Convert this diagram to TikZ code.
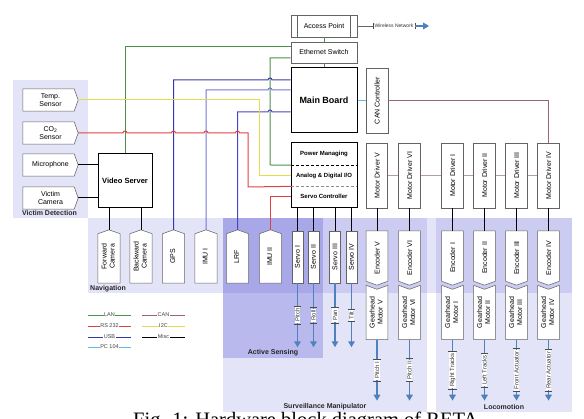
\documentclass[tikz,border=0pt]{standalone}
\usepackage{fontspec}
\setmainfont{Liberation Sans}
\newfontfamily\capfont{Liberation Serif}
\usepackage{graphicx}
\usetikzlibrary{arrows.meta}
\pgfdeclarelayer{regions}
\pgfdeclarelayer{shapes}
\pgfsetlayers{regions,shapes,main}
\definecolor{lanC}{RGB}{75,145,75}
\definecolor{rsC}{RGB}{222,65,65}
\definecolor{usbC}{RGB}{55,55,170}
\definecolor{usbL}{RGB}{115,115,212}
\definecolor{usbM}{RGB}{70,70,188}
\definecolor{i2cC}{RGB}{228,220,80}
\definecolor{pcC}{RGB}{95,190,222}
\definecolor{canC}{RGB}{155,100,115}
\definecolor{canL}{RGB}{180,155,165}
\definecolor{arrC}{RGB}{79,129,189}
\definecolor{regA}{RGB}{228,228,248}
\definecolor{regB}{RGB}{204,204,242}
\definecolor{regC}{RGB}{185,185,238}
\definecolor{regD}{RGB}{168,168,232}
\definecolor{edgeC}{RGB}{100,100,100}
\newcommand\fsz{\fontsize{7}{8.2}\selectfont}
\newcommand\twol[1]{\begin{tabular}{@{}c@{}}#1\end{tabular}}
\tikzset{
  edge/.style={draw=edgeC, line width=0.55pt},
  box/.style={edge, fill=white, inner sep=0pt, align=center, font=\fsz},
  tbox/.style={inner sep=0pt, align=center, font=\fsz},
  bbox/.style={box, draw=black, line width=1pt},
  sub/.style={inner sep=0pt, minimum width=66pt, minimum height=21.3pt, font=\bfseries\fontsize{6}{7}\selectfont},
  lan/.style={draw=lanC, line width=1pt},
  rs/.style={draw=rsC, line width=1pt},
  usb/.style={draw=usbC, line width=1pt},
  i2c/.style={draw=i2cC, line width=1pt},
  pc/.style={draw=pcC, line width=1pt},
  can/.style={draw=canC, line width=1pt},
  canl/.style={draw=canL, line width=1pt},
  misc/.style={draw=black, line width=1pt},
  arr/.style={draw=arrC, line width=1.8pt, -{Triangle[length=6pt,width=6.5pt]}},
  lbl/.style={fill=white, rotate=90, inner xsep=1.5pt, inner ysep=0.6pt, font=\fontsize{6}{7}\selectfont, text=black!80},
  lblh/.style={fill=white, inner xsep=1.5pt, inner ysep=0.6pt, font=\fontsize{5}{6}\selectfont, text=black!80},
  tick/.style={draw=black!70, line width=0.6pt},
  lg/.style={fill=white, inner sep=0.6pt, font=\fontsize{5.5}{6}\selectfont, text=black!75},
  rl/.style={font=\bfseries\fontsize{7}{8}\selectfont, text=black!85, inner sep=0pt}
}
\begin{document}
\begin{tikzpicture}[x=1pt,y=-1pt]
\useasboundingbox (0,0) rectangle (584,419);
% regions
\begin{pgfonlayer}{regions}
\fill[regA] (13,80) rectangle (88,218);
\fill[regA] (88,218) rectangle (572,293);
\fill[regA] (223,218) rectangle (427,412);
\fill[regA] (436,218) rectangle (572,412);
\fill[regB] (223,218) rectangle (427,293);
\fill[regB] (436,218) rectangle (572,293);
\fill[regC] (223,218) rectangle (323,358);
\fill[regD] (223,218) rectangle (323,293);
\end{pgfonlayer}
\node[rl] (vdl) at (49.5,213) {Victim Detection};
\node[rl, anchor=west] (navl) at (90,289) {Navigation};
\node[rl] (asl) at (273,353) {Active Sensing};
\node[rl] (sml) at (325,406.5) {Surveillance Manipulator};
\node[rl] (locl) at (504,406.5) {Locomotion};

% central column
\node[box, minimum width=66pt, minimum height=22pt] (ap) at (324,26) {Access Point};
\draw[edge] ([xshift=7pt]ap.north west) -- ([xshift=7pt]ap.south west)
            ([xshift=-7pt]ap.north east) -- ([xshift=-7pt]ap.south east);
\node[box, minimum width=66pt, minimum height=21pt] (es) at (324,52.5) {Ethernet Switch};
\node[bbox, minimum width=66pt, minimum height=65pt, font=\bfseries\fontsize{9}{11}\selectfont] (mb) at (324,100.5) {Main Board};
\node[box, minimum width=22pt, minimum height=65pt] (can) at (377,100.5) {\rotatebox{90}{CAN Controller}};
\node[bbox, minimum width=66pt, minimum height=65pt] (pwr) at (324,175.5) {};
\node[sub] (pm) at (324,154.2) {Power Managing};
\node[sub] (ad) at (324,175.5) {Analog \& Digital I/O};
\node[sub] (sc) at (324,196.8) {Servo Controller};
\draw[black, dash pattern=on 3pt off 2pt, line width=0.6pt] (pm.south west) -- (pm.south east);
\draw[black!45, dash pattern=on 3pt off 2pt, line width=0.6pt] (ad.south west) -- (ad.south east);

% wireless
\node[lblh] (wl) at (394,26) {Wireless Network};
\draw[draw=black!60, line width=0.6pt] (ap.east) -- (wl.west);
\draw[tick] (wl.north west) -- (wl.south west) (wl.north east) -- (wl.south east);
\draw[arr] (wl.east) -- ++(14,0);

\draw[lan] (ap.south) -- (es.north);
\draw[lan] (es.south) -- (mb.north);
\draw[pc] (mb.east) -- (can.west);

% motor columns
\foreach \nm/\xx/\lab in {V/377/Pitch I, VI/409.5/Pitch II, I/452.5/Right Tracks, II/484.5/Left Tracks, III/516.5/Front Actuator, IV/548.5/Rear Actuator} {
  \node[box, minimum width=21.5pt, minimum height=65pt] (md\nm) at (\xx,175.5) {\rotatebox{90}{Motor Driver \nm}};
  \node[tbox, minimum width=21.5pt, minimum height=54pt] (en\nm) at (\xx,258) {\rotatebox{90}{Encoder \nm}};
  \node[tbox, minimum width=21.5pt, minimum height=54pt] (gm\nm) at (\xx,312.5) {\rotatebox{90}{\twol{Gearhead\\Motor \nm}}};
  \begin{pgfonlayer}{shapes}
    \draw[edge, fill=white] (en\nm.north west) -- (en\nm.north east) -- ([yshift=4pt]en\nm.south east) -- (en\nm.south) -- ([yshift=4pt]en\nm.south west) -- cycle;
    \draw[edge, fill=white] (gm\nm.north west) -- ([yshift=-4pt]gm\nm.north) -- (gm\nm.north east) -- (gm\nm.south east) -- (gm\nm.south west) -- cycle;
  \end{pgfonlayer}
  \draw[misc] (md\nm.south) -- (en\nm.north);
  \draw[arr] (gm\nm.south) -- ++(0,61) node[midway, lbl] (lb\nm) {\lab};
  \draw[tick] (lb\nm.north west) -- (lb\nm.south west) (lb\nm.north east) -- (lb\nm.south east);
}
\draw[can] (can.east) -| (mdIV.north);
\draw[canl] (mdV) -- (mdVI);
\draw[canl] (mdVI) -- (mdI);
\draw[canl] (mdI) -- (mdII);
\draw[canl] (mdII) -- (mdIII);
\draw[canl] (mdIII) -- (mdIV);

% servos
\foreach \i/\nm/\xx/\lab in {1/I/297.5/Pitch, 2/II/313.5/Roll, 3/III/335/Pan, 4/IV/351.5/Tilt} {
  \node[box, minimum width=11pt, minimum height=52pt] (sv\i) at (\xx,257) {\rotatebox{90}{Servo \nm}};
  \draw[misc] (sv\i.north |- sc.south) -- (sv\i.north);
  \draw[arr] (sv\i.south) -- ++(0,64) node[midway, lbl] (ls\i) {\lab};
  \draw[tick] (ls\i.north west) -- (ls\i.south west) (ls\i.north east) -- (ls\i.south east);
}

% navigation devices
\foreach \n/\xx/\t in {fc/109/Forward\\Camera, bc/141/Backward\\Camera, gps/173.5/GPS, imuA/206/IMU I, lrf/237.5/LRF, imuB/270.5/IMU II} {
  \node[tbox, minimum width=22pt, minimum height=53pt] (\n) at (\xx,256.5) {\rotatebox{90}{\twol{\t}}};
  \begin{pgfonlayer}{shapes}
    \draw[edge, fill=white] (\n.south west) -- ([yshift=-4pt]\n.north west) -- (\n.north) -- ([yshift=-4pt]\n.north east) -- (\n.south east) -- cycle;
  \end{pgfonlayer}
}

% sensors
\foreach \n/\yy/\t in {temp/100/Temp.\\Sensor, co2/133/CO\textsubscript{2}\\Sensor, mic/165/Microphone, vc/198/Victim\\Camera} {
  \node[tbox, minimum width=55pt, minimum height=22pt] (\n) at (50.5,\yy) {\t};
  \begin{pgfonlayer}{shapes}
    \draw[edge, fill=white] (\n.north west) -- ([xshift=-4pt]\n.north east) -- (\n.east) -- ([xshift=-4pt]\n.south east) -- (\n.south west) -- cycle;
  \end{pgfonlayer}
}

% video server
\node[bbox, minimum width=54pt, minimum height=54pt, font=\bfseries\fontsize{7.5}{9}\selectfont] (vs) at (125,181) {Video Server};
\draw[misc] (mic.east) -- (mic.east -| vs.west);
\draw[misc] (vc.east) -- (vc.east -| vs.west);
\draw[misc] (vs.south -| fc.north) -- (fc.north);
\draw[misc] (vs.south -| bc.north) -- (bc.north);

% LAN
\draw[lan] (vs.north) |- ([yshift=5.5pt]es.west);
\draw[lan] ([yshift=-5.5pt]es.west) -| (270,165) -- (pm.south west);

% USB
\draw[usb] ([yshift=20.5pt]mb.west) -- (272,80) arc[start angle=0,end angle=180,radius=2pt] -| (gps.north);
\draw[draw=usbL, line width=1pt] ([yshift=10.5pt]mb.west) -- (272,90) arc[start angle=0,end angle=180,radius=2pt] -| (imuA.north);
\draw[draw=usbM, line width=1pt] ([yshift=-11.5pt]mb.west) -- (272,112) arc[start angle=0,end angle=180,radius=2pt] -| (lrf.north);

% I2C
\draw[i2c] (temp.east) -- (259,100) |- (ad.west);
% RS232
\draw[rs] (co2.east) -- (123,133) arc[start angle=180,end angle=0,radius=2pt]
  -- (171.5,133) arc[start angle=180,end angle=0,radius=2pt]
  -- (204,133) arc[start angle=180,end angle=0,radius=2pt]
  -- (235.5,133) arc[start angle=180,end angle=0,radius=2pt]
  -- (248,133) -- (248,187) -- (ad.south west);
\draw[rs] (sc.west) -| (imuB.north);

% legend
\foreach \i/\c/\t/\xx/\yy in {1/lan/LAN/88/315, 2/rs/RS 232/88/326, 3/usb/USB/88/337, 4/pc/PC 104/88/347, 5/can/CAN/142/315, 6/i2c/I2C/142/326, 7/misc/Misc/142/337} {
  \draw[\c, line width=0.8pt] (\xx,\yy) -- node[lg] (lg\i) {\t} ++(43,0);
}

% caption (cut by the page edge)
\node[font=\capfont\fontsize{20.5}{24}\selectfont, anchor=base west, inner sep=0pt] (cap) at (133,427) {Fig. 1: Hardware block diagram of RETA};
\end{tikzpicture}
\end{document}
